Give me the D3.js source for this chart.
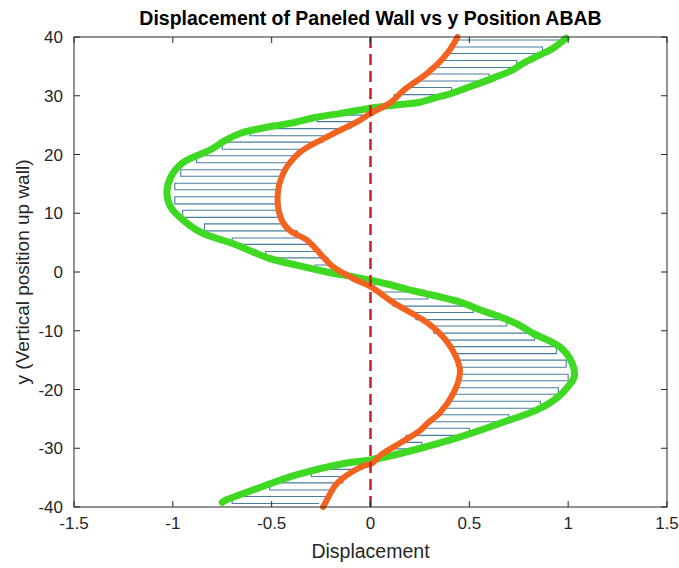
<!DOCTYPE html>
<html lang="en">
<head>
<meta charset="UTF-8">
<title>Displacement of Paneled Wall</title>
<script src="https://cdn.jsdelivr.net/npm/d3@7"></script>
<style>
    body { margin: 0; background: #fff; }
    svg text { font-family: "Liberation Sans", Arial, Helvetica, sans-serif; fill: #262626; }
</style>
</head>
<body>
<div id="chart"></div>
<script>
// tick labels
var xTicks = [-1.5, -1, -0.5, 0, 0.5, 1, 1.5];
var yTicks = [-40, -30, -20, -10, 0, 10, 20, 30, 40];

// green outline (y position, displacement)
var greenY = [-39.2, -38.8, -36.8, -34.5, -32.5, -32.0, -30.3, -28.1, -25.7, -23.5, -22.0, -20.6, -17.9, -15.5, -12.8, -10.4, -9.0, -7.7, -6.5, -5.1, -3.6, -3.0, -2.0, -1.0, 0.0, 1.2, 2.4, 3.5, 4.9, 6.6, 8.9, 11.0, 13.4, 16.2, 18.6, 20.8, 22.5, 23.7, 24.8, 25.4, 26.3, 27.0, 27.6, 28.0, 28.4, 28.9, 29.6, 30.3, 31.5, 33.0, 34.4, 35.5, 37.0, 38.0, 39.8];
var greenX = [-0.75, -0.73, -0.57, -0.37, -0.12, 0.0, 0.22, 0.45, 0.66, 0.84, 0.92, 0.97, 1.03, 1.02, 0.96, 0.82, 0.75, 0.66, 0.56, 0.45, 0.27, 0.19, 0.08, -0.06, -0.22, -0.38, -0.52, -0.60, -0.70, -0.85, -0.95, -1.01, -1.03, -1.01, -0.95, -0.81, -0.73, -0.65, -0.50, -0.39, -0.28, -0.15, -0.05, 0.02, 0.12, 0.25, 0.32, 0.40, 0.50, 0.62, 0.72, 0.77, 0.86, 0.92, 0.99];

// orange curve
var orangeY = [-40, -39.4, -36.0, -33.2, -32.5, -31.2, -29.1, -27.0, -25.7, -24.0, -20.6, -17.8, -16.1, -12.0, -8.7, -5.3, -2.5, -1.4, 0.9, 3.7, 5.4, 7.1, 8.9, 12.8, 16.9, 20.3, 23.0, 25.9, 27.0, 28.8, 31.0, 33.9, 37.3, 40];
var orangeX = [-0.24, -0.23, -0.17, -0.05, 0.01, 0.05, 0.15, 0.25, 0.29, 0.35, 0.42, 0.45, 0.45, 0.39, 0.29, 0.12, 0.0, -0.07, -0.19, -0.27, -0.32, -0.41, -0.45, -0.47, -0.44, -0.36, -0.22, -0.05, 0.0, 0.10, 0.17, 0.29, 0.39, 0.44];

// hatch lines: levels and the x where the zigzag turns
var hatchY = [-39.4, -38.2, -37.1, -35.9, -34.8, -33.6, -32.4, -31.3, -30.1, -29.0, -27.8, -26.6, -25.5, -24.3, -23.2, -22.0, -20.8, -19.7, -18.5, -17.4, -16.2, -15.0, -13.9, -12.7, -11.6, -10.4, -9.2, -8.1, -6.9, -5.8, -4.6, -3.4, -2.3, -1.1, 0.0, 1.2, 2.4, 3.5, 4.7, 5.8, 7.0, 8.2, 9.3, 10.5, 11.6, 12.8, 14.0, 15.1, 16.3, 17.4, 18.6, 19.8, 20.9, 22.1, 23.2, 24.4, 25.6, 26.7, 27.9, 29.0, 30.2, 31.4, 32.5, 33.7, 34.8, 36.0, 37.2, 38.3, 39.5];
var hatchX = [-0.26, -0.70, -0.20, -0.51, -0.14, -0.30, -0.04, 0.02, 0.075, 0.26, 0.18, 0.50, 0.28, 0.70, 0.355, 0.86, 0.40, 0.95, 0.44, 1.00, 0.45, 0.99, 0.43, 0.94, 0.39, 0.83, 0.32, 0.69, 0.23, 0.52, 0.115, 0.29, 0.015, 0.02, -0.12, -0.28, -0.215, -0.53, -0.28, -0.70, -0.37, -0.84, -0.45, -0.95, -0.46, -0.99, -0.47, -0.99, -0.45, -0.96, -0.42, -0.88, -0.36, -0.75, -0.24, -0.61, -0.10, -0.27, 0.015, 0.10, 0.12, 0.41, 0.21, 0.60, 0.30, 0.74, 0.37, 0.87, 0.42, 0.96];

var W = 679, H = 568;
var margin = {left: 74, right: 12, top: 37, bottom: 61};

var svg = d3.select("#chart").append("svg")
        .attr("width", W)
        .attr("height", H);

var x = d3.scaleLinear().domain([-1.5, 1.5]).range([margin.left, W - margin.right]);
var y = d3.scaleLinear().domain([-40, 40]).range([H - margin.bottom, margin.top]);

// zigzag hatch
var hatchPts = [];
hatchY.forEach(function (v, i) {
    hatchPts.push([hatchX[i], v]);
    hatchPts.push([hatchX[i + 1], v]);
});
svg.append("path")
        .attr("d", d3.line().x(function (d) { return x(d[0]); }).y(function (d) { return y(d[1]); })(hatchPts))
        .attr("fill", "none")
        .attr("stroke", "#4a7d9e")
        .attr("stroke-width", 1.1);

var curve = d3.line()
        .x(function (d) { return x(d[0]); })
        .y(function (d) { return y(d[1]); })
        .curve(d3.curveCatmullRom.alpha(0.5));

svg.append("path")
        .attr("d", curve(greenY.map(function (v, i) { return [greenX[i], v]; })))
        .attr("fill", "none")
        .attr("stroke", "#3fd924")
        .attr("stroke-width", 7)
        .attr("stroke-linecap", "round")
        .attr("stroke-linejoin", "round");

svg.append("path")
        .attr("d", curve(orangeY.map(function (v, i) { return [orangeX[i], v]; })))
        .attr("fill", "none")
        .attr("stroke", "#f2631f")
        .attr("stroke-width", 6)
        .attr("stroke-linecap", "round")
        .attr("stroke-linejoin", "round");

// zero line
svg.append("line")
        .attr("x1", x(0)).attr("x2", x(0))
        .attr("y1", y(40)).attr("y2", y(-40))
        .attr("stroke", "#cc1f24")
        .attr("stroke-width", 2.5)
        .attr("stroke-dasharray", "11,6");

// box + ticks (matlab style, inward)
var axisColor = "#262626";
svg.append("rect")
        .attr("x", x(-1.5)).attr("y", y(40))
        .attr("width", x(1.5) - x(-1.5)).attr("height", y(-40) - y(40))
        .attr("fill", "none").attr("stroke", axisColor).attr("stroke-width", 1);

var tk = 6;
xTicks.forEach(function (t) {
    svg.append("line").attr("x1", x(t)).attr("x2", x(t)).attr("y1", y(-40)).attr("y2", y(-40) - tk)
            .attr("stroke", axisColor);
    svg.append("line").attr("x1", x(t)).attr("x2", x(t)).attr("y1", y(40)).attr("y2", y(40) + tk)
            .attr("stroke", axisColor);
    svg.append("text")
            .attr("x", x(t)).attr("y", y(-40) + 22)
            .attr("text-anchor", "middle")
            .style("font-size", "17px")
            .text(t);
});
yTicks.forEach(function (t) {
    svg.append("line").attr("x1", x(-1.5)).attr("x2", x(-1.5) + tk).attr("y1", y(t)).attr("y2", y(t))
            .attr("stroke", axisColor);
    svg.append("line").attr("x1", x(1.5)).attr("x2", x(1.5) - tk).attr("y1", y(t)).attr("y2", y(t))
            .attr("stroke", axisColor);
    svg.append("text")
            .attr("x", x(-1.5) - 11).attr("y", y(t) + 6)
            .attr("text-anchor", "end")
            .style("font-size", "17px")
            .text(t);
});

svg.append("text")
        .attr("x", (x(-1.5) + x(1.5)) / 2).attr("y", 25)
        .attr("text-anchor", "middle")
        .style("font-size", "19.5px").style("font-weight", "bold")
        .style("fill", "#000")
        .text("Displacement of Paneled Wall vs y Position ABAB");

svg.append("text")
        .attr("x", (x(-1.5) + x(1.5)) / 2).attr("y", 558)
        .attr("text-anchor", "middle")
        .style("font-size", "19.5px")
        .text("Displacement");

svg.append("text")
        .attr("transform", "translate(29," + y(0) + ") rotate(-90)")
        .attr("text-anchor", "middle")
        .style("font-size", "19px")
        .text("y (Vertical position up wall)");
</script>
</body>
</html>
